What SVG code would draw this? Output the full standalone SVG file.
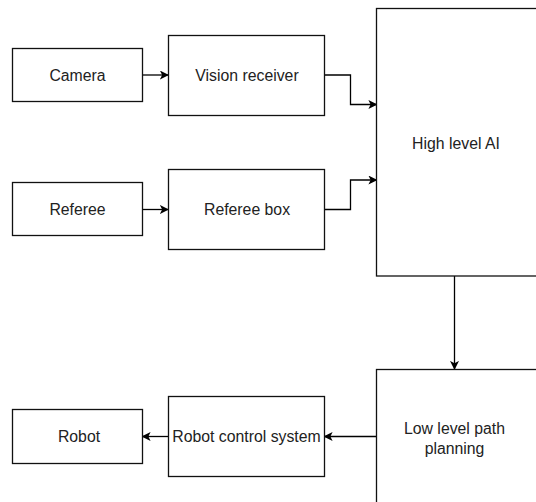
<svg xmlns="http://www.w3.org/2000/svg" width="536" height="502" viewBox="0 0 536 502">
<style>
.box{fill:#fff;stroke:#111;stroke-width:1.3}
.lbl{font-family:"Liberation Sans",Arial,sans-serif;font-size:15.8px;fill:#222;text-anchor:middle;dominant-baseline:central}
.con{fill:none;stroke:#000;stroke-width:1.3}
</style>
<defs>
<marker id="arr" viewBox="0 0 10 10" refX="9" refY="5" markerWidth="9" markerHeight="9" markerUnits="userSpaceOnUse" orient="auto">
<path d="M0,0 L10,5 L0,10 L2.5,5 Z" fill="#000"/>
</marker>
</defs>
<rect width="536" height="502" fill="#fff"/>
<g id="connectors">
<path class="con" d="M142.5,75 L168,75" marker-end="url(#arr)"/>
<path class="con" d="M324.5,75 L350.5,75 L350.5,104.5 L376.5,104.5" marker-end="url(#arr)"/>
<path class="con" d="M142.5,209.5 L168,209.5" marker-end="url(#arr)"/>
<path class="con" d="M324.5,209.5 L350.5,209.5 L350.5,180 L376.5,180" marker-end="url(#arr)"/>
<path class="con" d="M454.5,276 L454.5,369" marker-end="url(#arr)"/>
<path class="con" d="M376.5,436.5 L324.5,436.5" marker-end="url(#arr)"/>
<path class="con" d="M168.5,436.5 L142.5,436.5" marker-end="url(#arr)"/>
</g>
<g id="camera"><rect class="box" x="12.5" y="48.5" width="130" height="53"/><text class="lbl" x="77.5" y="75">Camera</text></g>
<g id="vision-receiver"><rect class="box" x="168.5" y="35.5" width="156" height="80"/><text class="lbl" x="247" y="75">Vision receiver</text></g>
<g id="referee"><rect class="box" x="12.5" y="182.5" width="130" height="53"/><text class="lbl" x="77.5" y="209">Referee</text></g>
<g id="referee-box"><rect class="box" x="168.5" y="169.5" width="156" height="80"/><text class="lbl" x="247" y="209">Referee box</text></g>
<g id="high-level-ai"><rect class="box" x="376.5" y="8.5" width="200" height="267.5"/><text class="lbl" x="456" y="143">High level AI</text></g>
<g id="low-level-path-planning"><rect class="box" x="376.5" y="369.5" width="200" height="160"/><text class="lbl" x="454.5" y="428">Low level path</text><text class="lbl" x="454.5" y="448">planning</text></g>
<g id="robot-control-system"><rect class="box" x="168.5" y="396.5" width="156" height="80"/><text class="lbl" x="246.5" y="436.5">Robot control system</text></g>
<g id="robot"><rect class="box" x="12.5" y="409.5" width="130" height="54"/><text class="lbl" x="79" y="436.5">Robot</text></g>
</svg>
